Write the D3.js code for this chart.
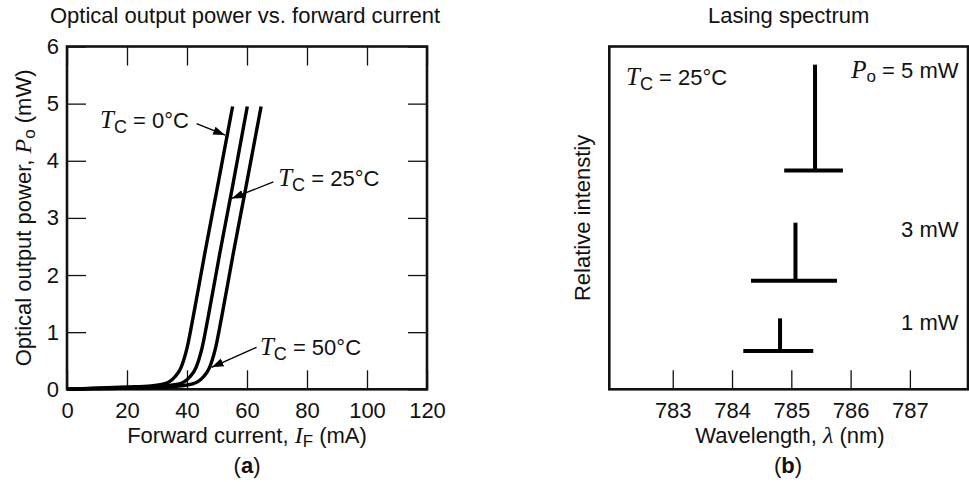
<!DOCTYPE html>
<html>
<head>
<meta charset="utf-8">
<script src="https://cdn.jsdelivr.net/npm/d3@7/dist/d3.min.js"></script>
<style>
body { margin: 0; background: #fff; }
text { font-family: "Liberation Sans", Arial, Helvetica, sans-serif; fill: #111; }
.it { font-family: "Liberation Serif", "Times New Roman", serif; font-style: italic; }
</style>
</head>
<body>
<script>
// ---- panel (a): optical output power vs forward current ----
var currentTicks = [0, 20, 40, 60, 80, 100, 120];
var powerTicks = [0, 1, 2, 3, 4, 5, 6];

// [forward current mA, output power mW]
var curveT0 = [[0,0],[10,0.02],[20,0.04],[28,0.06],[32,0.09],[34,0.13],[36,0.22],[38,0.38],[40,0.72],[42,1.25],[46,2.4],[50,3.5],[55.2,4.95]];
var curveT25 = [[0,0],[10,0.02],[20,0.03],[30,0.05],[37,0.09],[39,0.13],[41,0.22],[43,0.38],[45,0.72],[47,1.25],[51,2.4],[55,3.5],[60.1,4.95]];
var curveT50 = [[0,0],[10,0.01],[20,0.02],[30,0.03],[38,0.06],[41.5,0.09],[43.5,0.13],[45.5,0.22],[47.5,0.38],[49.5,0.72],[51.5,1.25],[55.5,2.4],[59.5,3.5],[64.7,4.95]];

// annotation: label, text anchor (I,P), arrow tail (I,P), arrow tip (I,P)
var tempLabels = ["0°C", "25°C", "50°C"];
var labelAt = [[11, 4.57], [70.4, 3.56], [64.3, 0.6]];
var arrowFrom = [[43.2, 4.65], [68.8, 3.63], [63.2, 0.735]];
var arrowTo = [[52.7, 4.45], [54.9, 3.34], [48.2, 0.385]];

// ---- panel (b): lasing spectrum ----
var wavelengthTicks = [783, 784, 785, 786, 787];
var powerLabels = ["5 mW", "3 mW", "1 mW"];
var peakWavelength = [785.4, 785.07, 784.81];
var spreadMin = [784.88, 784.32, 784.19];
var spreadMax = [785.87, 785.77, 785.37];
var baseLevel = [63.8, 31.7, 11.2];   // relative intensity, arbitrary units
var peakLevel = [94.7, 48.6, 20.7];
var powerLabelLevel = [90.9, 44.5, 17.3];

var W = 969, H = 482;
var svg = d3.select("body").append("svg").attr("width", W).attr("height", H);

var fs = 22;

// ================= panel (a) =================
var ax = { l: 67, r: 427, t: 46.5, b: 389.3 };
var x = d3.scaleLinear().domain([0, 120]).range([ax.l, ax.r]);
var y = d3.scaleLinear().domain([0, 6]).range([ax.b, ax.t]);
var ga = svg.append("g");

var tick = 19;
ga.append("g").attr("transform", "translate(0," + ax.b + ")")
  .call(d3.axisBottom(x).tickValues(currentTicks).tickSize(-tick).tickPadding(13).tickFormat(d3.format("d")));
ga.append("g").attr("transform", "translate(0," + ax.t + ")")
  .call(d3.axisTop(x).tickValues(currentTicks).tickSize(-tick).tickFormat(""));
ga.append("g").attr("transform", "translate(" + ax.l + ",0)")
  .call(d3.axisLeft(y).tickValues(powerTicks).tickSize(-tick).tickPadding(8).tickFormat(d3.format("d")));
ga.append("g").attr("transform", "translate(" + ax.r + ",0)")
  .call(d3.axisRight(y).tickValues(powerTicks).tickSize(-tick).tickFormat(""));
ga.selectAll(".domain").remove();
ga.selectAll(".tick line").attr("stroke", "#111").attr("stroke-width", 1.3);
ga.selectAll(".tick text").attr("font-size", fs).attr("fill", "#111")
  .style("font-family", "'Liberation Sans', Arial, sans-serif");

ga.append("rect").attr("x", ax.l).attr("y", ax.t).attr("width", ax.r - ax.l).attr("height", ax.b - ax.t)
  .attr("fill", "none").attr("stroke", "#111").attr("stroke-width", 2.6);

var line = d3.line().x(function (d) { return x(d[0]); }).y(function (d) { return y(d[1]); })
  .curve(d3.curveMonotoneX);
[curveT0, curveT25, curveT50].forEach(function (c) {
  ga.append("path").datum(c).attr("d", line).attr("fill", "none")
    .attr("stroke", "#000").attr("stroke-width", 3.4).attr("stroke-linejoin", "round");
});

var defs = svg.append("defs");
defs.append("marker").attr("id", "arr").attr("viewBox", "0 0 10 10").attr("refX", 10).attr("refY", 5)
  .attr("markerWidth", 12).attr("markerHeight", 12).attr("markerUnits", "userSpaceOnUse").attr("orient", "auto")
  .append("path").attr("d", "M0,1.5 L10,5 L0,8.5 Z").attr("fill", "#000");

function tLabel(g, px, py, rest, anchor) {
  var t = g.append("text").attr("x", px).attr("y", py).attr("font-size", fs).attr("text-anchor", anchor || "start");
  t.append("tspan").attr("class", "it").attr("font-size", fs + 3).text("T");
  t.append("tspan").attr("font-size", fs - 4).attr("dy", 5).text("C");
  t.append("tspan").attr("dy", -5).text(" = " + rest);
  return t;
}

tempLabels.forEach(function (lab, i) {
  tLabel(ga, x(labelAt[i][0]), y(labelAt[i][1]), lab);
  ga.append("line")
    .attr("x1", x(arrowFrom[i][0])).attr("y1", y(arrowFrom[i][1]))
    .attr("x2", x(arrowTo[i][0])).attr("y2", y(arrowTo[i][1]))
    .attr("stroke", "#000").attr("stroke-width", 1.3).attr("marker-end", "url(#arr)");
});

ga.append("text").attr("x", (ax.l + ax.r) / 2 - 2).attr("y", 23).attr("text-anchor", "middle")
  .attr("font-size", fs).text("Optical output power vs. forward current");

var xl = ga.append("text").attr("x", (ax.l + ax.r) / 2).attr("y", 443).attr("text-anchor", "middle").attr("font-size", fs);
xl.append("tspan").text("Forward current, ");
xl.append("tspan").attr("class", "it").attr("font-size", fs + 2).text("I");
xl.append("tspan").attr("font-size", fs - 5).attr("dy", 4).text("F");
xl.append("tspan").attr("dy", -4).text(" (mA)");

var yl = ga.append("text").attr("transform", "translate(31," + ((ax.t + ax.b) / 2) + ") rotate(-90)")
  .attr("text-anchor", "middle").attr("font-size", fs);
yl.append("tspan").text("Optical output power, ");
yl.append("tspan").attr("class", "it").attr("font-size", fs + 2).text("P");
yl.append("tspan").attr("font-size", fs - 5).attr("dy", 4).text("o");
yl.append("tspan").attr("dy", -4).text(" (mW)");

var ca = ga.append("text").attr("x", (ax.l + ax.r) / 2).attr("y", 473).attr("text-anchor", "middle").attr("font-size", fs);
ca.append("tspan").text("(");
ca.append("tspan").attr("font-weight", "bold").text("a");
ca.append("tspan").text(")");

// ================= panel (b) =================
var bx = { l: 609.3, r: 968, t: 46.5, b: 389.3 };
var xw = d3.scaleLinear().domain([781.93, 787.98]).range([bx.l, bx.r]);
var yr = d3.scaleLinear().domain([0, 100]).range([bx.b, bx.t]);
var gb = svg.append("g");

gb.append("g").attr("transform", "translate(0," + bx.b + ")")
  .call(d3.axisBottom(xw).tickValues(wavelengthTicks).tickSize(-tick).tickPadding(13).tickFormat(d3.format("d")));
gb.selectAll(".domain").remove();
gb.selectAll(".tick line").attr("stroke", "#111").attr("stroke-width", 1.3);
gb.selectAll(".tick text").attr("font-size", fs).attr("fill", "#111")
  .style("font-family", "'Liberation Sans', Arial, sans-serif");

gb.append("rect").attr("x", bx.l).attr("y", bx.t).attr("width", bx.r - bx.l).attr("height", bx.b - bx.t)
  .attr("fill", "none").attr("stroke", "#111").attr("stroke-width", 2.6);

powerLabels.forEach(function (lab, i) {
  gb.append("line").attr("x1", xw(spreadMin[i])).attr("x2", xw(spreadMax[i]))
    .attr("y1", yr(baseLevel[i])).attr("y2", yr(baseLevel[i]))
    .attr("stroke", "#000").attr("stroke-width", 4);
  gb.append("line").attr("x1", xw(peakWavelength[i])).attr("x2", xw(peakWavelength[i]))
    .attr("y1", yr(baseLevel[i])).attr("y2", yr(peakLevel[i]))
    .attr("stroke", "#000").attr("stroke-width", 4);
  var t = gb.append("text").attr("x", 958.5).attr("y", yr(powerLabelLevel[i]))
    .attr("text-anchor", "end").attr("font-size", fs);
  if (i === 0) {
    t.append("tspan").attr("class", "it").attr("font-size", fs + 3).text("P");
    t.append("tspan").attr("font-size", fs - 5).attr("dy", 4).text("o");
    t.append("tspan").attr("dy", -4).text(" = " + lab);
  } else {
    t.text(lab);
  }
});

tLabel(gb, 626, 85, "25°C");

gb.append("text").attr("x", (bx.l + bx.r) / 2).attr("y", 23).attr("text-anchor", "middle")
  .attr("font-size", fs).text("Lasing spectrum");

var wl = gb.append("text").attr("x", 790).attr("y", 443).attr("text-anchor", "middle").attr("font-size", fs);
wl.append("tspan").text("Wavelength, ");
wl.append("tspan").attr("class", "it").attr("font-size", fs + 2).text("λ");
wl.append("tspan").text(" (nm)");

gb.append("text").attr("transform", "translate(590," + ((bx.t + bx.b) / 2) + ") rotate(-90)")
  .attr("text-anchor", "middle").attr("font-size", fs).text("Relative intenstiy");

var cb = gb.append("text").attr("x", 788).attr("y", 473).attr("text-anchor", "middle").attr("font-size", fs);
cb.append("tspan").text("(");
cb.append("tspan").attr("font-weight", "bold").text("b");
cb.append("tspan").text(")");
</script>
</body>
</html>
